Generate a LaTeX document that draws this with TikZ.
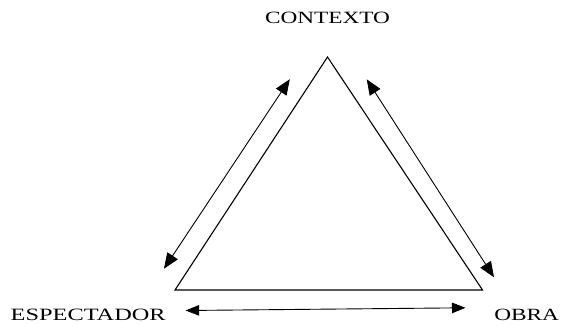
\documentclass[tikz,border=0pt]{standalone}
\usepackage{fontspec}
\setmainfont{Liberation Serif}
\usetikzlibrary{arrows.meta}
\begin{document}
\begin{tikzpicture}[x=1pt,y=-1pt,
  lbl/.style={anchor=base,inner sep=0pt,font=\fontsize{17.1}{20}\selectfont},
  side/.style={line width=1.1pt,line join=miter},
  rel/.style={line width=0.9pt,{Triangle[length=15.5pt,width=12.5pt]}-{Triangle[length=15.5pt,width=12.5pt]}},
  relh/.style={line width=0.9pt,{Triangle[length=13.5pt,width=10.5pt]}-{Triangle[length=13.5pt,width=10.5pt]}}]
\useasboundingbox (0,0) rectangle (562,326);
\coordinate (top) at (327.5,57);
\coordinate (bl) at (175,290);
\coordinate (br) at (482.5,290);
\draw[side] (top) -- (br) -- (bl) -- cycle;
\node[lbl] (ctx) at (327.5,24) {\resizebox{125pt}{!}{\scalebox{1}[0.74]{CONTEXTO}}};
\node[lbl] (esp) at (88.2,320.7) {\resizebox{155pt}{!}{\scalebox{1}[0.71]{ESPECTADOR}}};
\node[lbl] (obra) at (526.7,320.7) {\resizebox{64.7pt}{!}{\scalebox{1}[0.735]{OBRA}}};
\coordinate (l1) at (164,268.7);
\coordinate (l2) at (289.8,79.2);
\coordinate (r1) at (366.7,79.3);
\coordinate (r2) at (494,277.3);
\coordinate (b1) at (185.6,310.5);
\coordinate (b2) at (465.5,307.8);
\draw[rel] (l1) -- (l2);
\draw[rel] (r1) -- (r2);
\draw[relh] (b1) -- (b2);
\end{tikzpicture}
\end{document}
